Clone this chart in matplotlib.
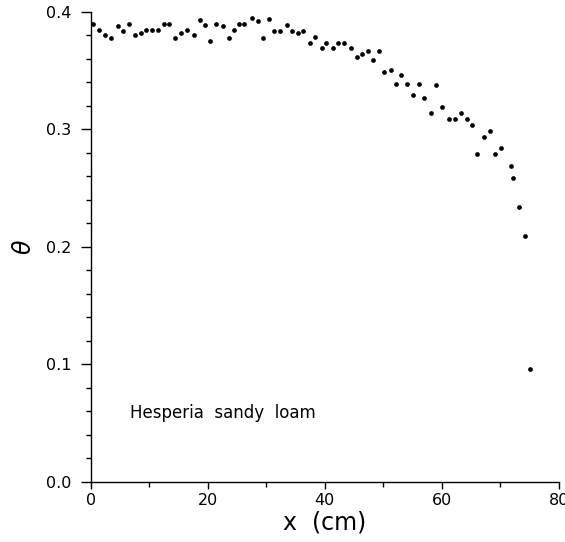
import matplotlib
matplotlib.use('Agg')
import matplotlib.pyplot as plt
from matplotlib.ticker import MultipleLocator, FormatStrFormatter


# distance along column (cm) and water content
x_cm = [0.33, 1.44, 2.53, 3.55, 4.59, 5.55, 6.53, 7.65, 8.56, 9.43,
        10.40, 11.43, 12.51, 13.42, 14.49, 15.52, 16.49, 17.67, 18.62, 19.52,
        20.47, 21.40, 22.60, 23.60, 24.47, 25.39, 26.24, 27.57, 28.54, 29.41,
        30.42, 31.36, 32.38, 33.49, 34.44, 35.36, 36.21, 37.56, 38.36, 39.48,
        40.30, 41.36, 42.35, 43.30, 44.44, 45.45, 46.43, 47.34, 48.30, 49.27,
        50.09, 51.24, 52.24, 53.06, 54.12, 55.07, 56.12, 57.05, 58.22, 59.08,
        60.11, 61.18, 62.21, 63.25, 64.26, 65.20, 66.01, 67.19, 68.27, 69.09,
        70.07, 71.75, 72.24, 73.21, 74.24, 75.14]
theta = [0.390, 0.385, 0.380, 0.378, 0.388, 0.384, 0.390, 0.380, 0.382, 0.385,
         0.385, 0.385, 0.390, 0.390, 0.378, 0.382, 0.385, 0.380, 0.393, 0.389,
         0.375, 0.390, 0.388, 0.378, 0.385, 0.390, 0.390, 0.395, 0.392, 0.378,
         0.394, 0.384, 0.384, 0.389, 0.384, 0.382, 0.384, 0.374, 0.379, 0.369,
         0.374, 0.369, 0.374, 0.374, 0.369, 0.362, 0.364, 0.367, 0.359, 0.367,
         0.349, 0.351, 0.339, 0.346, 0.339, 0.329, 0.339, 0.327, 0.314, 0.338,
         0.319, 0.309, 0.309, 0.314, 0.309, 0.304, 0.279, 0.294, 0.299, 0.279,
         0.284, 0.269, 0.259, 0.234, 0.209, 0.096]

soil_name = 'Hesperia  sandy  loam'

plt.rcParams['font.family'] = ['DejaVu Sans']

fig = plt.figure(figsize=(5.65, 5.42), dpi=100)
ax = fig.add_axes([0.1605, 0.1107, 0.8285, 0.8672])

ax.plot(x_cm, theta, 'o', color='black', markersize=3.4, markeredgewidth=0, clip_on=False)

ax.set_xlim(0, 80)
ax.set_ylim(0, 0.4)
ax.spines['top'].set_visible(False)
ax.spines['right'].set_visible(False)
for s in ('left', 'bottom'):
    ax.spines[s].set_linewidth(1.0)

ax.xaxis.set_major_locator(MultipleLocator(20))
ax.xaxis.set_minor_locator(MultipleLocator(10))
ax.yaxis.set_major_locator(MultipleLocator(0.1))
ax.yaxis.set_minor_locator(MultipleLocator(0.02))
ax.yaxis.set_major_formatter(FormatStrFormatter('%.1f'))

ax.tick_params(axis='y', which='major', direction='out', length=7, width=1, labelsize=11.5, pad=7)
ax.tick_params(axis='y', which='minor', direction='out', length=3.6, width=1)
ax.tick_params(axis='x', which='major', direction='out', length=5, width=1, labelsize=11.5, pad=3)
ax.tick_params(axis='x', which='minor', direction='out', length=3.6, width=1)

ax.set_xlabel('x  (cm)', fontsize=17, labelpad=1.5)
ax.set_ylabel(r'$\theta$', fontsize=17, rotation=90, labelpad=7)

ax.text(6.8, 0.0545, soil_name, fontsize=12, ha='left', va='baseline')

fig.savefig('out.png', dpi=100)
